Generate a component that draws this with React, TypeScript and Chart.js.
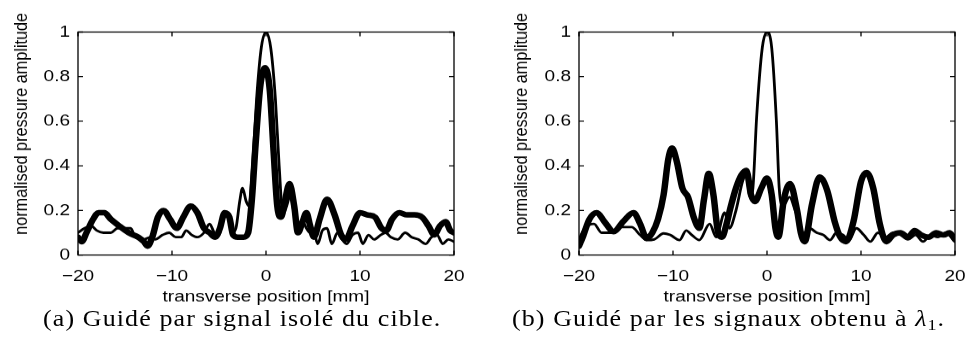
import React, { useEffect, useRef } from 'react';
import { Chart, registerables } from 'chart.js';

Chart.register(...registerables);

// The reference figure is squashed vertically; we draw in a taller logical box and scale it.
const S = 0.854;
const W = 966;
const H = 411;
const HALF = 483;
const CANVAS_W = 515;
const CANVAS_H = 365;
const PLOT_TOP = 37.5;
const PLOT_BOTTOM = 298.6;

const X_TICKS = [-20, -10, 0, 10, 20];
const Y_TICKS = [0, 0.2, 0.4, 0.6, 0.8, 1];
const X_LABEL = 'transverse position [mm]';
const Y_LABEL = 'normalised pressure amplitude';
const CAPTION_A = '(a) Guidé par signal isolé du cible.';
const CAPTION_B = '(b) Guidé par les signaux obtenu à ';

// (a) thin line
const aThinPos = [-20, -19.3, -18.6, -18.0, -17.3, -16.5, -15.8, -15.0, -14.4, -13.9, -13.0, -12.3, -11.8, -11.0, -10.3, -9.6, -9.0, -8.5, -7.9, -7.3, -6.6, -6.0, -5.5, -5.0, -4.5, -4.1, -3.6, -3.2, -2.8, -2.5, -2.1, -1.8, -1.4, -1.0, -0.5, 0, 0.5, 1.0, 1.4, 1.8, 2.2, 2.6, 3.0, 3.4, 3.9, 4.3, 4.7, 5.1, 5.5, 6.0, 6.5, 7.0, 7.6, 8.1, 8.6, 9.2, 9.8, 10.3, 10.9, 11.5, 12.2, 12.7, 13.3, 14.0, 14.8, 15.5, 16.2, 17.0, 17.6, 18.2, 18.8, 19.4, 20];
const aThinAmp = [0.10, 0.12, 0.13, 0.11, 0.10, 0.10, 0.12, 0.12, 0.12, 0.08, 0.07, 0.08, 0.07, 0.09, 0.10, 0.08, 0.08, 0.11, 0.09, 0.08, 0.10, 0.14, 0.10, 0.09, 0.18, 0.19, 0.10, 0.12, 0.24, 0.30, 0.24, 0.22, 0.42, 0.70, 0.93, 1.0, 0.93, 0.70, 0.40, 0.18, 0.22, 0.27, 0.18, 0.10, 0.15, 0.12, 0.10, 0.10, 0.05, 0.11, 0.12, 0.05, 0.10, 0.07, 0.05, 0.09, 0.10, 0.05, 0.09, 0.07, 0.09, 0.10, 0.08, 0.07, 0.10, 0.08, 0.07, 0.05, 0.08, 0.09, 0.05, 0.07, 0.06];

// (a) thick line
const aThickPos = [-20, -19.6, -19.1, -18.4, -17.8, -17.2, -16.5, -15.6, -14.6, -13.6, -13.0, -12.6, -12.1, -11.5, -10.9, -10.2, -9.5, -8.8, -8.0, -7.3, -6.6, -6.0, -5.4, -4.9, -4.4, -3.9, -3.5, -3.0, -2.4, -1.9, -1.5, -1.1, -0.6, -0.1, 0.4, 0.8, 1.2, 1.6, 2.0, 2.5, 3.0, 3.4, 3.9, 4.3, 4.7, 5.1, 5.7, 6.5, 7.3, 8.0, 8.5, 9.2, 10.0, 10.8, 11.6, 12.3, 12.8, 13.4, 14.2, 15.0, 15.8, 16.6, 17.3, 17.9, 18.5, 19.1, 19.6, 20];
const aThickAmp = [0.08, 0.06, 0.10, 0.16, 0.19, 0.19, 0.16, 0.13, 0.10, 0.08, 0.06, 0.04, 0.08, 0.17, 0.20, 0.16, 0.12, 0.17, 0.22, 0.19, 0.12, 0.10, 0.08, 0.12, 0.19, 0.17, 0.09, 0.08, 0.08, 0.10, 0.25, 0.50, 0.76, 0.84, 0.74, 0.47, 0.22, 0.17, 0.24, 0.32, 0.22, 0.10, 0.15, 0.19, 0.13, 0.08, 0.16, 0.25, 0.18, 0.09, 0.07, 0.13, 0.19, 0.18, 0.17, 0.12, 0.11, 0.16, 0.19, 0.18, 0.18, 0.17, 0.13, 0.09, 0.13, 0.15, 0.11, 0.10];

// (b) thin line
const bThinPos = [-20, -19.4, -18.4, -17.6, -16.5, -15.6, -14.4, -13.5, -12.8, -12.0, -11.0, -10.3, -9.3, -8.6, -8.0, -7.2, -6.1, -5.4, -4.5, -4.0, -3.3, -2.6, -2.2, -1.8, -1.5, -1.1, -0.5, 0, 0.5, 1.0, 1.3, 1.7, 2.4, 3.0, 3.9, 4.5, 5.3, 6.0, 6.7, 7.4, 8.1, 8.7, 9.5, 10.3, 11.0, 11.8, 12.6, 13.4, 14.2, 15.0, 15.8, 16.6, 17.4, 18.2, 19.0, 19.6, 20];
const bThinAmp = [0.07, 0.12, 0.14, 0.10, 0.10, 0.125, 0.125, 0.09, 0.067, 0.07, 0.097, 0.09, 0.067, 0.11, 0.09, 0.067, 0.14, 0.08, 0.19, 0.12, 0.20, 0.33, 0.36, 0.26, 0.30, 0.62, 0.93, 1.0, 0.93, 0.60, 0.30, 0.22, 0.26, 0.20, 0.097, 0.12, 0.10, 0.09, 0.067, 0.10, 0.09, 0.065, 0.12, 0.09, 0.06, 0.10, 0.08, 0.10, 0.09, 0.07, 0.09, 0.06, 0.09, 0.08, 0.10, 0.08, 0.06];

// (b) thick line
const bThickPos = [-20, -19.6, -18.9, -18.1, -17.3, -16.3, -15.3, -14.2, -13.5, -12.8, -12.2, -11.6, -11.0, -10.5, -10.1, -9.6, -9.0, -8.4, -7.8, -7.2, -6.7, -6.2, -5.7, -5.2, -4.8, -4.3, -3.9, -3.3, -2.7, -2.2, -1.7, -1.3, -0.6, 0, 0.5, 0.9, 1.2, 1.8, 2.45, 3.2, 3.6, 4.0, 4.8, 5.6, 6.4, 7.2, 7.8, 8.4, 9.2, 10.0, 10.6, 11.3, 12.0, 12.7, 13.4, 14.2, 15.0, 15.7, 16.4, 17.2, 18.0, 18.8, 19.4, 20];
const bThickAmp = [0.04, 0.08, 0.16, 0.19, 0.15, 0.105, 0.15, 0.19, 0.14, 0.075, 0.10, 0.16, 0.27, 0.43, 0.48, 0.42, 0.30, 0.26, 0.17, 0.12, 0.25, 0.366, 0.27, 0.10, 0.08, 0.14, 0.21, 0.30, 0.36, 0.38, 0.27, 0.24, 0.30, 0.345, 0.27, 0.12, 0.08, 0.25, 0.32, 0.20, 0.10, 0.06, 0.23, 0.35, 0.29, 0.15, 0.08, 0.06, 0.15, 0.33, 0.37, 0.30, 0.14, 0.06, 0.09, 0.10, 0.08, 0.11, 0.09, 0.08, 0.10, 0.09, 0.10, 0.07];

const SANS = '"Liberation Sans", Arial, Helvetica, sans-serif';
const FONT = { family: SANS, size: 19 };

const toPoints = (xs: number[], ys: number[]) => xs.map((x, i) => ({ x, y: ys[i] }));
const fmt = (v: number) => String(Math.round(v * 10) / 10).replace('-', '\u2212');

const framePlugin = {
  id: 'frame',
  afterDatasetsDraw(chart: any, _args: any, opts: any) {
    const { ctx, chartArea, scales } = chart;
    const { left, right, top, bottom } = chartArea;
    const xs = scales.x;
    const ys = scales.y;
    ctx.save();
    ctx.strokeStyle = '#000';
    ctx.lineWidth = 1.3;
    ctx.strokeRect(left, top, right - left, bottom - top);
    const tl = 5;
    ctx.beginPath();
    for (const v of X_TICKS) {
      const px = xs.getPixelForValue(v);
      ctx.moveTo(px, bottom);
      ctx.lineTo(px, bottom - tl);
      ctx.moveTo(px, top);
      ctx.lineTo(px, top + tl);
    }
    for (const v of Y_TICKS) {
      const py = ys.getPixelForValue(v);
      ctx.moveTo(left, py);
      ctx.lineTo(left + tl, py);
      ctx.moveTo(right, py);
      ctx.lineTo(right - tl, py);
    }
    ctx.stroke();
    ctx.font = `${FONT.size}px ${SANS}`;
    ctx.fillStyle = '#000';
    ctx.textAlign = 'center';
    ctx.textBaseline = 'middle';
    ctx.translate(opts.titleX, opts.titleY);
    ctx.rotate(-Math.PI / 2);
    ctx.fillText(Y_LABEL, 0, 0);
    ctx.restore();
  },
};

function makeChart(
  canvas: HTMLCanvasElement,
  thin: { x: number; y: number }[],
  thick: { x: number; y: number }[],
  plotLeft: number,
  plotRight: number,
  titleX: number
) {
  return new Chart(canvas, {
    type: 'line',
    data: {
      datasets: [
        {
          data: thin,
          borderColor: '#000',
          borderWidth: 2.8,
          pointRadius: 0,
          fill: false,
          cubicInterpolationMode: 'monotone',
          borderJoinStyle: 'round',
          borderCapStyle: 'round',
        },
        {
          data: thick,
          borderColor: '#000',
          borderWidth: 6.5,
          pointRadius: 0,
          fill: false,
          cubicInterpolationMode: 'monotone',
          borderJoinStyle: 'round',
          borderCapStyle: 'round',
        },
      ],
    },
    options: {
      animation: false,
      responsive: false,
      devicePixelRatio: 1,
      events: [],
      layout: { padding: { left: 0, top: PLOT_TOP, right: CANVAS_W - plotRight, bottom: 0 } },
      plugins: {
        legend: { display: false },
        tooltip: { enabled: false },
        frame: { titleX, titleY: 145 },
      } as any,
      scales: {
        x: {
          type: 'linear',
          min: -20,
          max: 20,
          ticks: { stepSize: 10, font: FONT, color: '#000', padding: 13.5, maxRotation: 0, callback: (v: any) => fmt(Number(v)) },
          grid: { display: false, drawTicks: false },
          border: { display: false },
          title: { display: true, text: X_LABEL, font: FONT, color: '#000', padding: { top: 0, bottom: 6 } },
          afterFit: (s: any) => {
            s.height = CANVAS_H - PLOT_BOTTOM;
          },
        },
        y: {
          type: 'linear',
          min: 0,
          max: 1,
          ticks: { stepSize: 0.2, font: FONT, color: '#000', padding: 8, callback: (v: any) => fmt(Number(v)) },
          grid: { display: false, drawTicks: false },
          border: { display: false },
          afterFit: (s: any) => {
            s.width = plotLeft;
          },
        },
      },
    },
    plugins: [framePlugin],
  } as any);
}

export default function App() {
  const leftRef = useRef<HTMLCanvasElement>(null);
  const rightRef = useRef<HTMLCanvasElement>(null);

  useEffect(() => {
    const a = makeChart(leftRef.current!, toPoints(aThinPos, aThinAmp), toPoints(aThickPos, aThickAmp), 78, 454, 22);
    const b = makeChart(rightRef.current!, toPoints(bThinPos, bThinAmp), toPoints(bThickPos, bThickAmp), 96, 472, 39);
    return () => {
      a.destroy();
      b.destroy();
    };
  }, []);

  const capStyle: React.CSSProperties = {
    position: 'absolute',
    top: 361,
    font: '26px "Liberation Serif", "Times New Roman", serif',
    lineHeight: '26px',
    letterSpacing: '1.1px',
    whiteSpace: 'nowrap',
    color: '#000',
  };

  return (
    <div
      style={{
        position: 'absolute',
        left: 0,
        top: 0,
        width: W,
        height: H,
        background: '#fff',
        overflow: 'hidden',
        transform: `scaleY(${S})`,
        transformOrigin: '0 0',
      }}
    >
      <canvas
        ref={leftRef}
        width={CANVAS_W}
        height={CANVAS_H}
        style={{ position: 'absolute', left: 0, top: 0, width: CANVAS_W, height: CANVAS_H }}
      />
      <canvas
        ref={rightRef}
        width={CANVAS_W}
        height={CANVAS_H}
        style={{ position: 'absolute', left: HALF, top: 0, width: CANVAS_W, height: CANVAS_H }}
      />
      <div style={{ ...capStyle, left: 43 }}>{CAPTION_A}</div>
      <div style={{ ...capStyle, left: 512 }}>
        {CAPTION_B}
        <i>λ</i>
        <span style={{ fontSize: '18px', position: 'relative', top: '5px' }}>1</span>.
      </div>
    </div>
  );
}
